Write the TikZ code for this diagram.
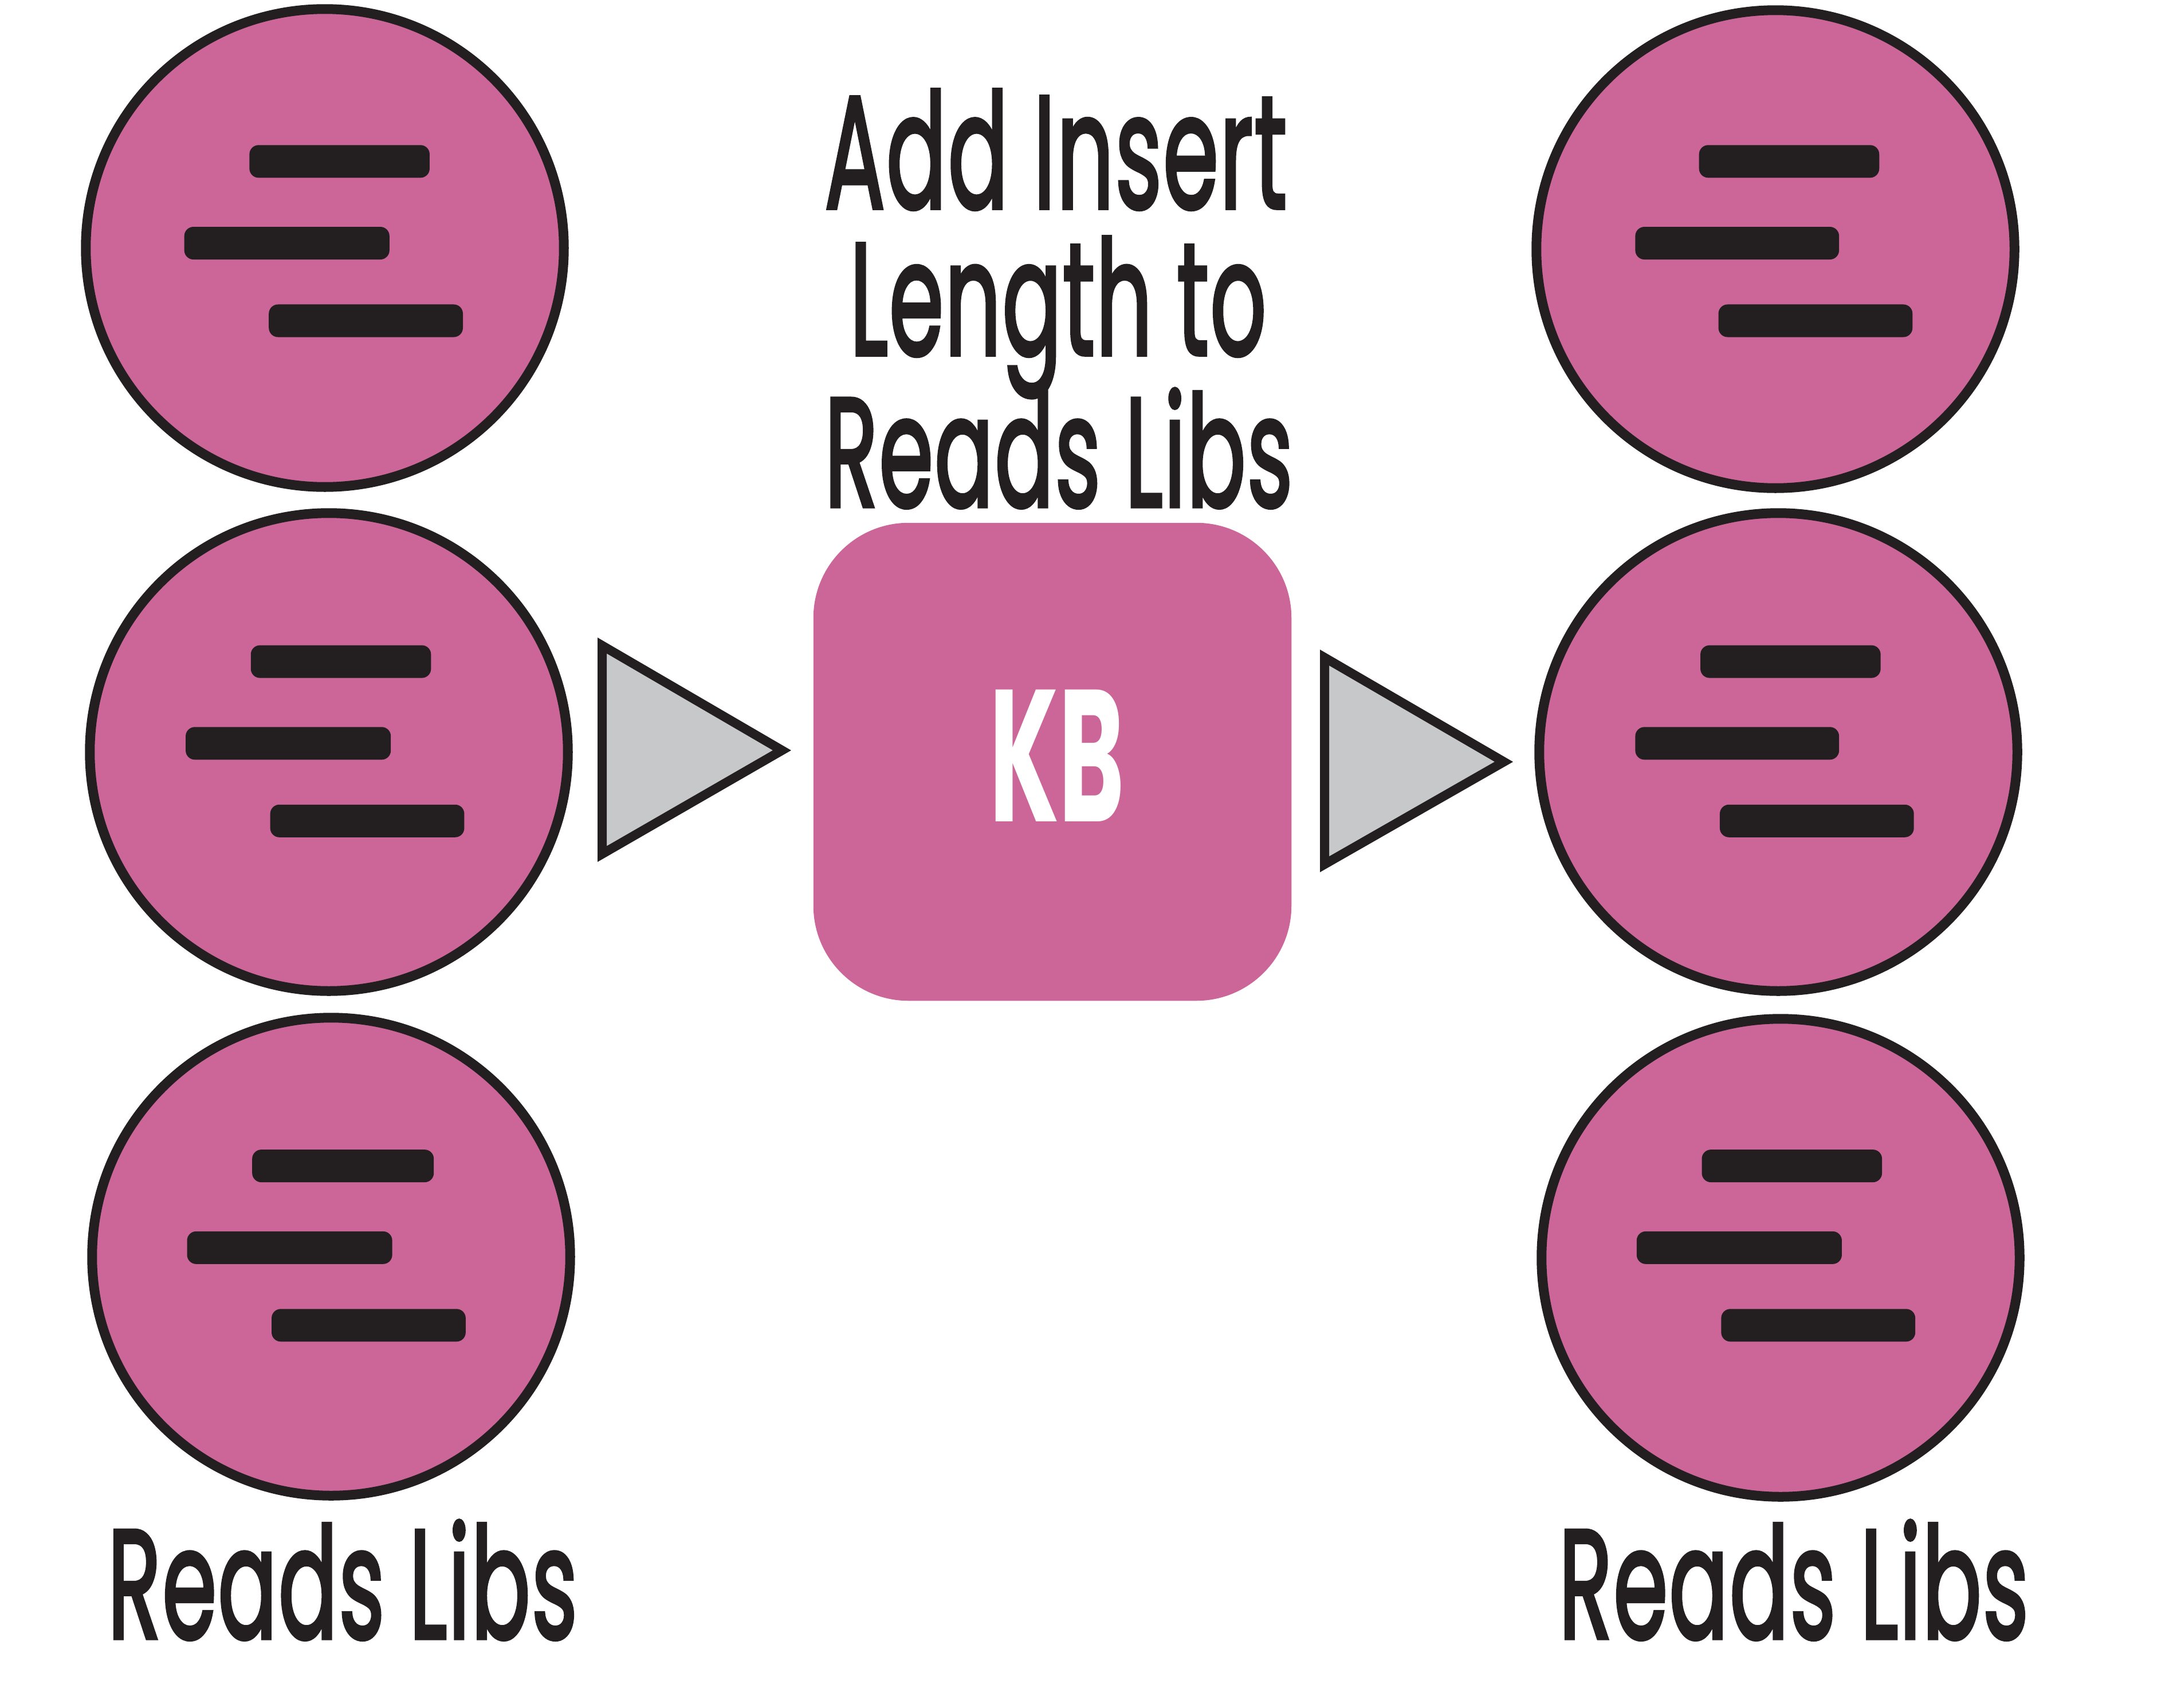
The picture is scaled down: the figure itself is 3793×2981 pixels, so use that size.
\documentclass[tikz,border=0pt]{standalone}
\usepackage{fontspec}
\usepackage{graphicx}
\setmainfont{Poppins}
\newfontfamily\ttf[FakeBold=2.7,LetterSpace=1.5]{Poppins}
\definecolor{ink}{HTML}{231F20}
\definecolor{rose}{HTML}{CC6699}
\definecolor{pale}{HTML}{C6C8CA}
\tikzset{
  disc/.style={circle,draw=ink,fill=rose,line width=.17cm,minimum size=8.34cm,inner sep=0pt},
  pbar/.style={rectangle,fill=ink,rounded corners=.16cm,minimum height=.57cm,inner sep=0pt,outer sep=0pt},
  tri/.style={draw=ink,fill=pale,line width=.16cm,miter limit=10},
  kbbox/.style={rectangle,fill=rose,rounded corners=1.66cm,minimum width=8.34cm,minimum height=8.34cm,inner sep=0pt,outer sep=0pt},
  lbl/.style={inner sep=0pt,outer sep=0pt,anchor=base,text=ink,font=\ttf},
}
\newcommand\pbr[4]{\node[pbar,minimum width={(#3-#2)*.02419cm}] (#1) at ({(#2+#3)/2*2.419},{(#4+11.5)*2.419}) {};}
\begin{document}
\begin{tikzpicture}[x=.01cm,y=-.01cm]
\useasboundingbox (0,0) rectangle (3793,2981);
\node[disc] (c1) at (567,433) {};
\node[disc] (c2) at (574,1313) {};
\node[disc] (c3) at (578,2194) {};
\node[disc] (d1) at (3099,435) {};
\node[disc] (d2) at (3104,1313) {};
\node[disc] (d3) at (3108,2196) {};
\pbr{a1}{180}{310}{105}\pbr{a2}{133}{281}{164}\pbr{a3}{194}{334}{220}
\pbr{b1}{181}{311}{466}\pbr{b2}{134}{282}{525}\pbr{b3}{195}{335}{581}
\pbr{e1}{182}{313}{830}\pbr{e2}{135}{283}{889}\pbr{e3}{196}{336}{945}
\pbr{f1}{1226}{1356}{105}\pbr{f2}{1180}{1327}{164}\pbr{f3}{1240}{1380}{220}
\pbr{g1}{1227}{1357}{466}\pbr{g2}{1180}{1327}{525}\pbr{g3}{1241}{1381}{581}
\pbr{h1}{1228}{1358}{830}\pbr{h2}{1181}{1329}{889}\pbr{h3}{1242}{1382}{945}
\node[kbbox] (kb) at (1837,1330) {};
\node[lbl,text=white,font=\normalfont] (kbt) at (1845,1434) {\resizebox{2.35cm}{2.30cm}{\bfseries KB}};
\draw[tri] (1051,1127) -- (1051,1491) -- (1365,1310) -- cycle;
\draw[tri] (2312,1148) -- (2312,1509) -- (2625,1330) -- cycle;
\node[lbl] (t1) at (1843,363) {\resizebox{8.06cm}{2.06cm}{Add Insert}};
\node[lbl] (t2) at (1847,619) {\resizebox{7.26cm}{2.05cm}{Length to}};
\node[lbl] (t3) at (1848,884) {\resizebox{8.16cm}{2.05cm}{Reads Libs}};
\node[lbl] (l1) at (598,2860) {\resizebox{8.19cm}{2.05cm}{Reads Libs}};
\node[lbl] (l2) at (3131,2860) {\resizebox{8.19cm}{2.05cm}{Reads Libs}};
\end{tikzpicture}
\end{document}
